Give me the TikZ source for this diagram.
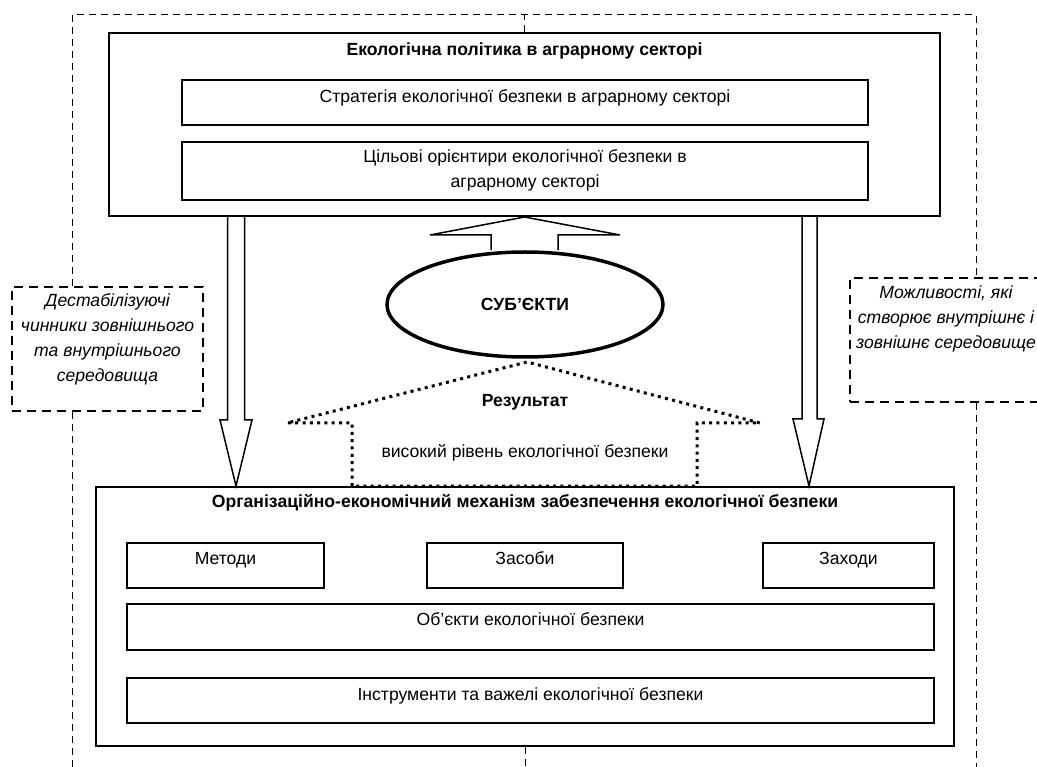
\documentclass[tikz,border=0pt]{standalone}
\usepackage{fontspec}
\setmainfont{Liberation Sans}
\usetikzlibrary{shapes.geometric}
\begin{document}
\begin{tikzpicture}[x=1pt, y=-1pt, font=\fontsize{17.6}{25}\selectfont]
\tikzstyle{every node}=[inner sep=0pt]
\tikzstyle{frame}=[draw, line width=2pt]
\tikzstyle{cell}=[draw, line width=2pt, text height=21pt, text depth=24pt]
\tikzstyle{side}=[draw, line width=2pt, dash pattern=on 9pt off 6pt, align=center, font=\fontsize{17.6}{25}\selectfont\itshape]
\tikzstyle{hollow}=[line width=1.5pt, line join=miter]
\tikzstyle{fence}=[line width=1pt, dash pattern=on 7pt off 5pt]
\tikzstyle{roof}=[line width=3pt, dash pattern=on 3pt off 4.3pt]
\useasboundingbox (0,0) rectangle (1037,767);
\node (EP) [frame, minimum width=831pt, text height=23pt, text depth=160pt] at (524.5,124.5) {\textbf{Екологічна політика в аграрному секторі}};
\node (SE) [cell, minimum width=686pt, text height=23pt, text depth=22pt] at (525,102.5) {Стратегія екологічної безпеки в аграрному секторі};
\node (TO) [cell, minimum width=686pt, align=center, text height=46pt, text depth=12pt] at (525,171) {Цільові орієнтири екологічної безпеки в\\аграрному секторі};
\node (S) [ellipse, draw, line width=3.5pt, minimum width=276pt, minimum height=105pt] at (525,304.5) {\textbf{СУБ’ЄКТИ}};
\node (R) [anchor=base] at (525,407) {\textbf{Результат}};
\node (HL) [anchor=base] at (525,457) {високий рівень екологічної безпеки};
\node (OM) [frame, minimum width=858pt, text height=20pt, text depth=239pt] at (525,616.5) {\textbf{Організаційно-економічний механізм забезпечення екологічної безпеки}};
\node (ME) [cell, minimum width=197pt] at (225.5,565.5) {Методи};
\node (ZS) [cell, minimum width=196pt] at (525,565.5) {Засоби};
\node (ZH) [cell, minimum width=171pt] at (848.5,565.5) {Заходи};
\node (OB) [cell, minimum width=807pt, text depth=25pt] at (530.5,627) {Об’єкти екологічної безпеки};
\node (IN) [cell, minimum width=807pt, text height=22pt, text depth=23pt] at (530.5,700.5) {Інструменти та важелі екологічної безпеки};
\node (DF) [side, minimum width=191pt, text height=95pt, text depth=29pt] at (107.5,349) {Дестабілізуючі\\чинники зовнішнього\\та внутрішнього\\середовища};
\node (PO) [side, minimum width=192pt, text height=71pt, text depth=53pt] at (946,340) {Можливості, які\\створює внутрішнє і\\зовнішнє середовище};
\coordinate (TL) at (72,15);
\coordinate (TR) at (976,15);
\coordinate (BL) at (72,767);
\coordinate (BR) at (976,767);
\coordinate (RT) at (527,362);
\draw [fence] (DF.north -| TL) -- (TL) -- (TR) -- (PO.north -| TR);
\draw [fence] (DF.south -| BL) -- (BL);
\draw [fence] (PO.south -| BR) -- (BR);
\draw [fence] (EP.north) -- (EP.north |- TL);
\draw [fence] (OM.south) -- (OM.south |- BL);
\draw [hollow] (EP.south -| 227.5,0) -- (227.5,420) -- (220,420) -- (OM.north -| 236,0) -- (252,420) -- (244.5,420) -- (EP.south -| 244.5,0);
\draw [hollow] (EP.south -| 802,0) -- (802,419) -- (793,419) -- (OM.north -| 809,0) -- (824,419) -- (817,419) -- (EP.south -| 817,0);
\draw [hollow] (S.north -| 491,0) -- (491,235) -- (430,235) -- (EP.south) -- (620,235) -- (558,235) -- (S.north -| 558,0);
\draw [roof] (OM.north -| 352,0) -- (352,423) -- (287,423) -- (RT) -- (760,423) -- (697,423) -- (OM.north -| 697,0) -- cycle;
\end{tikzpicture}
\end{document}
